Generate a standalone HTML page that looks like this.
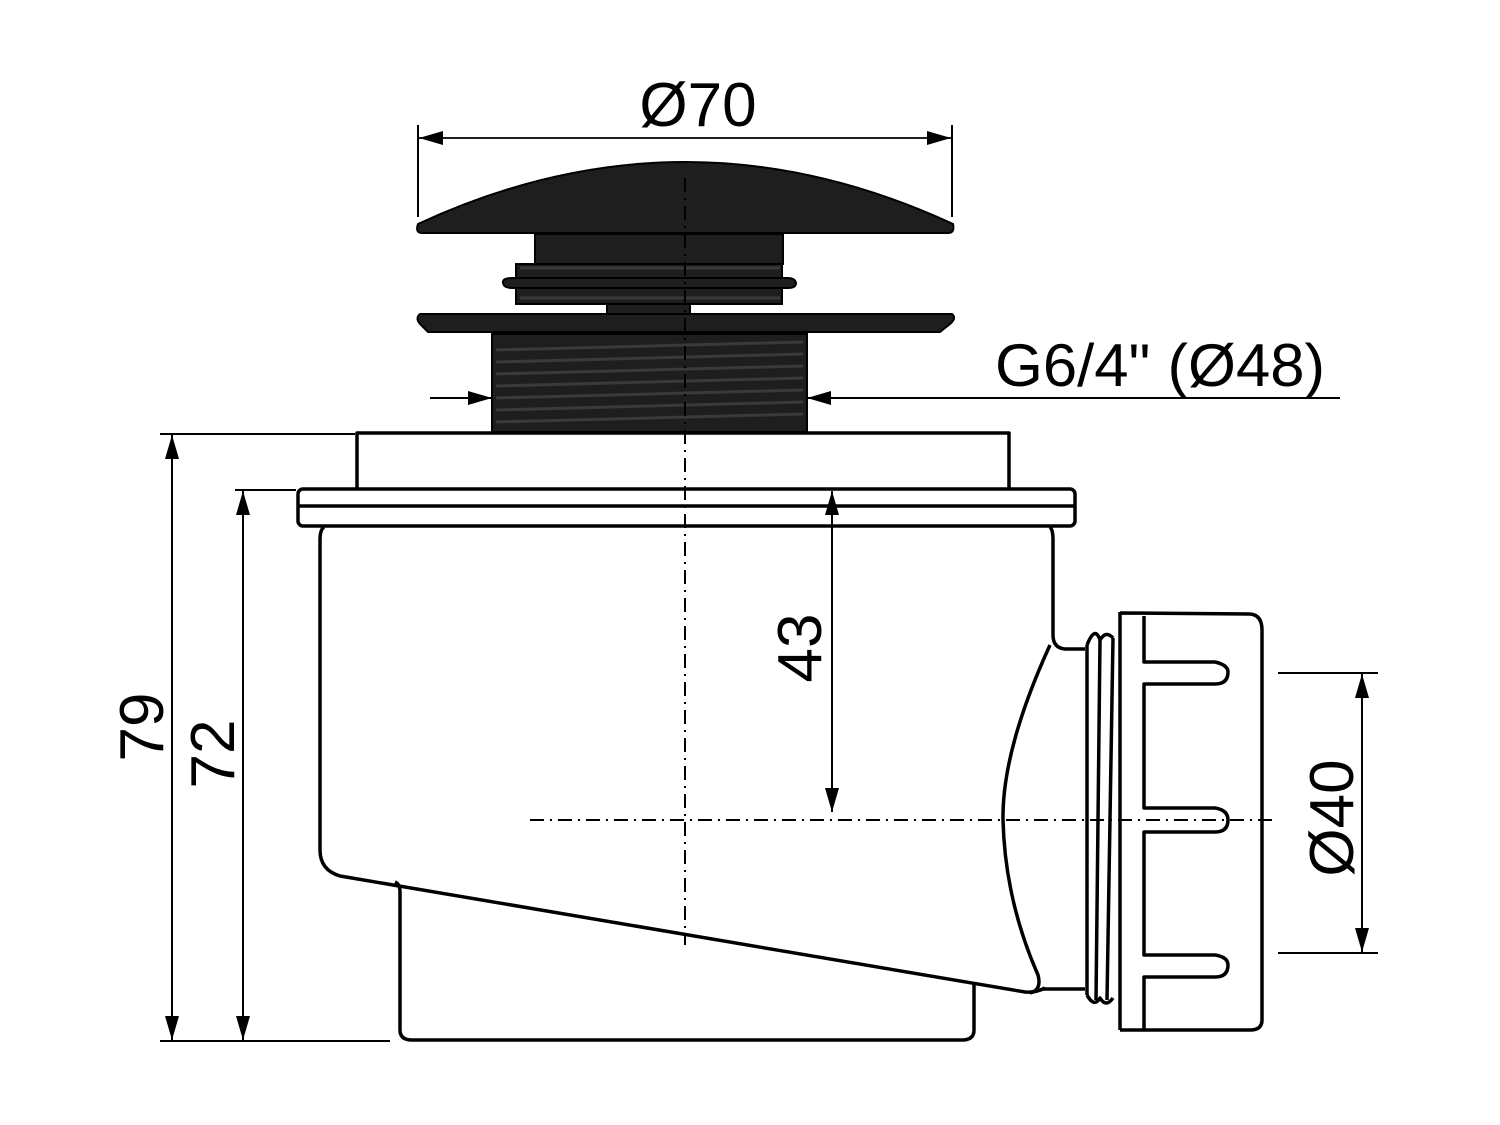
<!DOCTYPE html>
<html><head><meta charset="utf-8"><style>
html,body{margin:0;padding:0;background:#fff}
svg{display:block}
text{font-family:"Liberation Sans",sans-serif;fill:#000}
</style></head><body>
<svg width="1500" height="1125" viewBox="0 0 1500 1125" xmlns="http://www.w3.org/2000/svg">
<defs>
<marker id="a" viewBox="0 0 24 14" refX="24" refY="7" markerWidth="24" markerHeight="14" markerUnits="userSpaceOnUse" orient="auto-start-reverse"><path d="M0,0 L24,7 L0,14 Z" fill="#000"/></marker>
</defs>
<g stroke="#000" stroke-width="2" fill="none">
<!-- Ø70 dim -->
<line x1="418" y1="125" x2="418" y2="217"/>
<line x1="952" y1="125" x2="952" y2="217"/>
<line x1="419" y1="138" x2="951" y2="138" marker-start="url(#a)" marker-end="url(#a)" stroke-width="1.8"/>
<!-- G dim -->
<line x1="430" y1="398" x2="492" y2="398" marker-end="url(#a)"/>
<line x1="1340" y1="398" x2="807" y2="398" marker-end="url(#a)"/>
<!-- 79 / 72 -->
<line x1="160" y1="434" x2="355" y2="434"/>
<line x1="235" y1="490" x2="296" y2="490"/>
<line x1="160" y1="1041" x2="390" y2="1041"/>
<line x1="172" y1="435" x2="172" y2="1040" marker-start="url(#a)" marker-end="url(#a)"/>
<line x1="243" y1="491" x2="243" y2="1040" marker-start="url(#a)" marker-end="url(#a)"/>
<!-- 43 -->
<line x1="832" y1="491" x2="832" y2="812" marker-start="url(#a)" marker-end="url(#a)"/>
<!-- Ø40 -->
<line x1="1278" y1="673" x2="1378" y2="673"/>
<line x1="1278" y1="953" x2="1378" y2="953"/>
<line x1="1362" y1="674" x2="1362" y2="952" marker-start="url(#a)" marker-end="url(#a)"/>
</g>
<!-- cap (black) -->
<g fill="#1e1e1e" stroke="#000" stroke-width="2">
<path d="M418,224 Q685,100 953,224 Q955,233 948,233 L422,233 Q415,233 418,224 Z"/>
<rect x="535" y="234" width="248" height="30"/>
<rect x="516" y="264" width="266" height="40"/>
<path d="M512,278 Q502,278 503,283 Q504,288 512,288 L788,288 Q796,288 796,283 Q795,278 788,278 Z"/>
<rect x="607" y="304" width="83" height="10"/>
<path d="M420,314 L952,314 Q957,318 950,324 L940,332 L428,332 L420,324 Q415,318 420,314 Z"/>
<rect x="492" y="334" width="315" height="98"/>
</g>
<g stroke="#3a3a3a" stroke-width="3">
<line x1="520" y1="268" x2="780" y2="268"/><line x1="520" y1="298" x2="780" y2="298"/>
<line x1="496" y1="350" x2="803" y2="342"/><line x1="496" y1="362" x2="803" y2="354"/>
<line x1="496" y1="374" x2="803" y2="366"/><line x1="496" y1="386" x2="803" y2="378"/>
<line x1="496" y1="398" x2="803" y2="390"/><line x1="496" y1="410" x2="803" y2="402"/>
<line x1="496" y1="422" x2="803" y2="414"/>
</g>
<!-- body -->
<g stroke="#000" stroke-width="3.5" fill="none" stroke-linejoin="round">
<path d="M357,489 L357,433 L1009,433 L1009,489"/>
<rect x="298" y="489" width="777" height="37" rx="5"/>
<line x1="299" y1="506" x2="1074" y2="506"/>
<path d="M324,527 Q320,530 320,540 L320,850 Q320,870 340,876 L1025,992 Q1035,993 1045,988"/>
<path d="M395,882 Q400,884 400,892 L400,1030 Q400,1040 412,1040 L962,1040 Q974,1040 974,1030 L974,983"/>
<path d="M1050,527 Q1053,530 1053,540 L1053,635 Q1053,648 1065,649 L1085,649"/>
<path d="M1050,645 Q1002,750 1003,820 Q1005,900 1038,975 Q1042,990 1030,993"/>
<line x1="1043" y1="989" x2="1085" y2="989"/>
<path d="M1087,645 L1087,995 M1100,640 L1096,1000 M1113,638 L1107,1000"/>
<path d="M1087,645 Q1095,625 1100,640 Q1106,630 1113,638 M1087,995 Q1094,1008 1100,998 Q1106,1008 1113,998"/>
<path d="M1120,612 L1120,1030 M1120,613 L1250,614 Q1262,615 1262,630 L1262,1020 Q1262,1030 1250,1030 L1120,1030"/>
<path d="M1144,616 L1144,662 L1215,662 Q1228,665 1228,672 Q1228,684 1215,684 L1144,684 L1144,808 L1215,808 Q1228,810 1228,820 Q1228,832 1215,832 L1144,832 L1144,955 L1215,955 Q1228,957 1228,965 Q1228,977 1215,977 L1144,977 L1144,1030"/>
</g>
<!-- centerlines -->
<g stroke="#000" stroke-width="2" stroke-dasharray="14,6,2,6" fill="none">
<line x1="685" y1="178" x2="685" y2="945"/>
<line x1="530" y1="820" x2="1275" y2="820"/>
</g>
<!-- labels -->
<text x="698" y="126" font-size="62" text-anchor="middle">Ø70</text>
<text x="995" y="386" font-size="60" textLength="330" lengthAdjust="spacingAndGlyphs">G6/4" (Ø48)</text>
<text font-size="62" text-anchor="middle" transform="translate(163,727) rotate(-90)">79</text>
<text font-size="62" text-anchor="middle" transform="translate(234,754) rotate(-90)">72</text>
<text font-size="62" text-anchor="middle" transform="translate(821,648) rotate(-90)">43</text>
<text font-size="62" text-anchor="middle" transform="translate(1353,818) rotate(-90)">Ø40</text>
</svg>
</body></html>
